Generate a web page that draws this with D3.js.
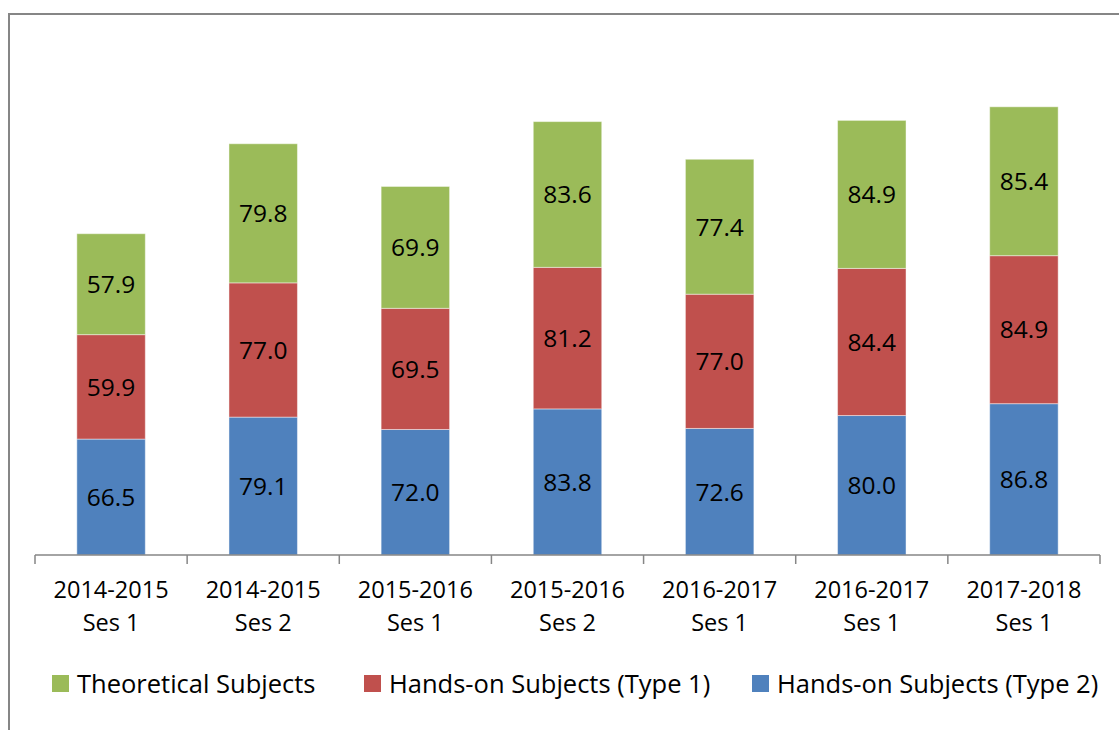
<!DOCTYPE html>
<html>
<head>
    <title>Stacked scores</title>
    <script src="https://cdnjs.cloudflare.com/ajax/libs/d3/7.8.5/d3.min.js"></script>
    <style>
        body { margin: 0; background: #fff; }
        svg { display: block; font-family: 'Open Sans', sans-serif; }
    </style>
</head>
<body>
    <svg id="chart" width="1119" height="730"></svg>
    <script>
        // values
        var sessions = [
            ["2014-2015", "Ses 1"], ["2014-2015", "Ses 2"], ["2015-2016", "Ses 1"],
            ["2015-2016", "Ses 2"], ["2016-2017", "Ses 1"], ["2016-2017", "Ses 1"],
            ["2017-2018", "Ses 1"]
        ];
        var seriesNames = ["Hands-on Subjects (Type 2)", "Hands-on Subjects (Type 1)", "Theoretical Subjects"];
        var handsOn2 = [66.5, 79.1, 72.0, 83.8, 72.6, 80.0, 86.8];
        var handsOn1 = [59.9, 77.0, 69.5, 81.2, 77.0, 84.4, 84.9];
        var theory = [57.9, 79.8, 69.9, 83.6, 77.4, 84.9, 85.4];
        var colors = ["#4F81BD", "#C0504D", "#9BBB59"];

        var rows = sessions.map((s, i) => ({ i: i, s0: handsOn2[i], s1: handsOn1[i], s2: theory[i] }));
        var stack = d3.stack().keys(["s0", "s1", "s2"])(rows);

        var svg = d3.select("#chart");

        // frame
        svg.append("rect")
            .attr("x", 9).attr("y", 14)
            .attr("width", 1200).attr("height", 800)
            .attr("fill", "none").attr("stroke", "#868686").attr("stroke-width", 2);

        var x = d3.scaleBand().domain(d3.range(sessions.length)).range([35, 1100]).paddingInner(0.55).paddingOuter(0.275);
        var y = d3.scaleLinear().domain([0, 300]).range([555, 32]);

        var layer = svg.selectAll("g.layer")
            .data(stack).enter().append("g")
            .attr("class", "layer")
            .attr("fill", (d, k) => colors[k]);

        layer.selectAll("rect")
            .data(d => d).enter().append("rect")
            .attr("x", d => x(d.data.i))
            .attr("width", x.bandwidth())
            .attr("y", d => y(d[1]))
            .attr("height", d => y(d[0]) - y(d[1]))
            .attr("stroke", "rgba(255,255,255,0.45)")
            .attr("stroke-width", 1);

        layer.selectAll("text")
            .data(d => d).enter().append("text")
            .attr("x", d => x(d.data.i) + x.bandwidth() / 2)
            .attr("y", d => (y(d[0]) + y(d[1])) / 2)
            .attr("dy", "0.36em")
            .attr("text-anchor", "middle")
            .attr("fill", "#000")
            .style("font-size", "24.5px")
            .text(d => (d[1] - d[0]).toFixed(1));

        // x axis with ticks between categories
        var axis = svg.append("g");
        axis.append("line")
            .attr("x1", 35).attr("x2", 1100).attr("y1", 555).attr("y2", 555)
            .attr("stroke", "#868686").attr("stroke-width", 1.5);
        var step = x.step();
        axis.selectAll("line.tick")
            .data(d3.range(sessions.length + 1)).enter().append("line")
            .attr("class", "tick")
            .attr("x1", k => 35 + k * step).attr("x2", k => 35 + k * step)
            .attr("y1", 555).attr("y2", 564)
            .attr("stroke", "#868686").attr("stroke-width", 1.5);

        var labels = axis.selectAll("text")
            .data(sessions).enter().append("text")
            .attr("x", (d, i) => x(i) + x.bandwidth() / 2)
            .attr("y", 590)
            .attr("text-anchor", "middle")
            .style("font-size", "23.5px");
        labels.append("tspan").attr("x", (d, i) => x(i) + x.bandwidth() / 2).attr("dy", "0.36em").text(d => d[0]);
        labels.append("tspan").attr("x", (d, i) => x(i) + x.bandwidth() / 2).attr("dy", "1.4em").text(d => d[1]);

        // legend
        var legendOrder = [2, 1, 0];
        var legendX = [52, 364, 752];
        var legend = svg.selectAll("g.legend")
            .data(legendOrder).enter().append("g")
            .attr("class", "legend")
            .attr("transform", (k, j) => `translate(${legendX[j]},675)`);
        legend.append("rect")
            .attr("width", 17).attr("height", 17)
            .attr("fill", k => colors[k]);
        legend.append("text")
            .attr("x", 25).attr("y", 9)
            .attr("dy", "0.36em")
            .style("font-size", "25.5px")
            .text(k => seriesNames[k]);
    </script>
</body>
</html>
